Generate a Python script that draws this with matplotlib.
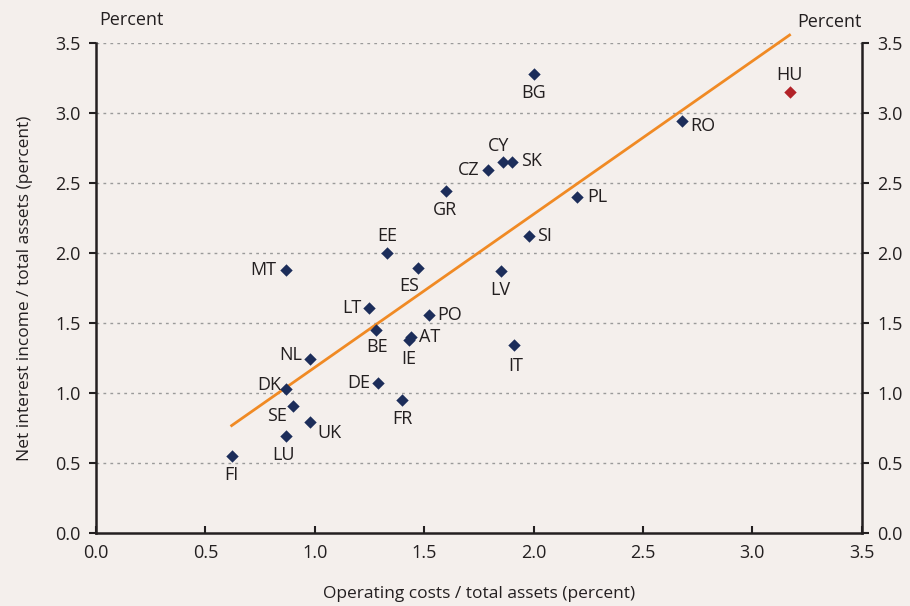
import numpy as np
import matplotlib.pyplot as plt

# Operating costs vs net interest income, both as % of total assets
countries = ['FI', 'LU', 'UK', 'SE', 'DK', 'NL', 'DE', 'FR', 'BE', 'IE', 'AT', 'PO',
             'LT', 'MT', 'EE', 'ES', 'LV', 'IT', 'SI', 'GR', 'CZ', 'CY', 'SK', 'PL',
             'BG', 'RO', 'HU']
op_costs = [0.62, 0.87, 0.98, 0.90, 0.87, 0.98, 1.29, 1.40, 1.28, 1.43, 1.44, 1.52,
            1.25, 0.87, 1.33, 1.47, 1.85, 1.91, 1.98, 1.60, 1.79, 1.86, 1.90, 2.20,
            2.00, 2.68, 3.17]
net_interest = [0.55, 0.69, 0.79, 0.91, 1.03, 1.24, 1.07, 0.95, 1.45, 1.38, 1.40, 1.56,
                1.61, 1.88, 2.00, 1.89, 1.87, 1.34, 2.12, 2.44, 2.59, 2.65, 2.65, 2.40,
                3.28, 2.94, 3.15]
highlight = 'HU'

# trend line
trend_slope = 1.094
trend_intercept = 0.089

ticks = [0.0, 0.5, 1.0, 1.5, 2.0, 2.5, 3.0, 3.5]

# label offsets in points (dx, dy, ha, va)
label_pos = {
    'FI': (0, -7, 'center', 'top'), 'LU': (-2, -7, 'center', 'top'),
    'UK': (5, -1, 'left', 'top'), 'SE': (-4, -1, 'right', 'top'),
    'DK': (-4, 3, 'right', 'center'), 'NL': (-6, 3, 'right', 'center'),
    'DE': (-6, 0, 'right', 'center'), 'FR': (0, -7, 'center', 'top'),
    'BE': (1, -6, 'center', 'top'), 'IE': (0, -7, 'center', 'top'),
    'AT': (6, 0, 'left', 'center'), 'PO': (6, 0, 'left', 'center'),
    'LT': (-6, 0, 'right', 'center'), 'MT': (-7, 0, 'right', 'center'),
    'EE': (0, 6, 'center', 'bottom'), 'ES': (-6, -6, 'center', 'top'),
    'LV': (0, -7, 'center', 'top'), 'IT': (1, -8, 'center', 'top'),
    'SI': (6, 0, 'left', 'center'), 'GR': (-1, -7, 'center', 'top'),
    'CZ': (-6, 0, 'right', 'center'), 'CY': (-3, 5, 'center', 'bottom'),
    'SK': (7, 1, 'left', 'center'), 'PL': (7, 0, 'left', 'center'),
    'BG': (0, -7, 'center', 'top'), 'RO': (6, -3, 'left', 'center'),
    'HU': (0, 6, 'center', 'bottom'),
}

bg = '#f4efec'
navy = '#1c2d5a'
red = '#b22228'
orange = '#f08a24'

plt.rcParams['font.family'] = ['Open Sans', 'DejaVu Sans']

fig = plt.figure(figsize=(9.1, 6.06), dpi=100, facecolor=bg)
ax = fig.add_axes([0.1055, 0.1205, 0.8415, 0.8085])
ax.set_facecolor(bg)

for c, x, y in zip(countries, op_costs, net_interest):
    col = red if c == highlight else navy
    ax.scatter(x, y, marker='D', s=40, color=col, zorder=3, linewidths=0)
    dx, dy, ha, va = label_pos[c]
    ax.annotate(c, (x, y), xytext=(dx, dy), textcoords='offset points',
                ha=ha, va=va, fontsize=13, color='#231f20', zorder=4)

xs = np.array([min(op_costs), max(op_costs)])
ax.plot(xs, trend_slope * xs + trend_intercept, color=orange, lw=2, zorder=2,
        clip_on=False)

ax.set_xlim(0, 3.5)
ax.set_ylim(0, 3.5)
ax.set_xticks(ticks)
ax.set_yticks(ticks)
ax.set_xticklabels([f'{t:.1f}' for t in ticks])
ax.set_yticklabels([f'{t:.1f}' for t in ticks])
for t in ticks[1:]:
    ax.axhline(t, color='#9a9a9a', lw=1, ls=(0, (2, 3)), zorder=1)

ax.spines['top'].set_visible(False)
for s in ['left', 'right', 'bottom']:
    ax.spines[s].set_linewidth(1.8)
    ax.spines[s].set_color('#231f20')
ax.tick_params(axis='x', direction='in', length=5, width=1.5, pad=8,
               labelsize=13, colors='#231f20')
ax.tick_params(axis='y', direction='out', length=5, width=1.5, pad=6,
               labelsize=13, colors='#231f20', right=True, labelright=True)

ax.set_xlabel('Operating costs / total assets (percent)', fontsize=12.5,
              color='#231f20', labelpad=17)
ax.set_ylabel('Net interest income / total assets (percent)', fontsize=12.5,
              color='#231f20', labelpad=16)

fig.text(131 / 910, 1 - 20 / 606, 'Percent', ha='center', va='center',
         fontsize=13, color='#231f20')
fig.text(829 / 910, 1 - 22 / 606, 'Percent', ha='center', va='center',
         fontsize=13, color='#231f20')

fig.savefig('out.png', dpi=100, facecolor=bg)
